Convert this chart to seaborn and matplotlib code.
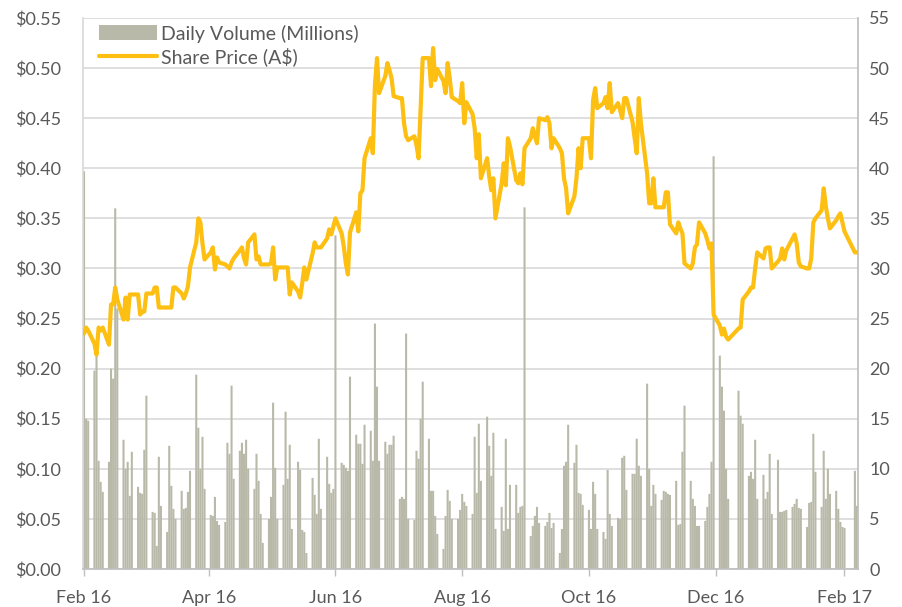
import numpy as np
import pandas as pd
import matplotlib
matplotlib.use('Agg')
import matplotlib.pyplot as plt
import matplotlib.dates as mdates
from matplotlib.ticker import FuncFormatter, MultipleLocator
from matplotlib.patches import Patch
from matplotlib.lines import Line2D
import seaborn as sns

# trading days (two halted days in Dec 16 and Feb 17 have no data)
missing_days = ['2016-12-12', '2016-12-13', '2017-02-06', '2017-02-07']
dates = pd.bdate_range('2016-02-03', '2017-02-09').drop(pd.to_datetime(missing_days))

# share price (A$), one row per week
price = [
    0.235, 0.241, 0.238,
    0.225, 0.214, 0.241, 0.238, 0.241,
    0.224, 0.264, 0.264, 0.281, 0.269,
    0.249, 0.271, 0.249, 0.274, 0.274,
    0.274, 0.254, 0.257, 0.257, 0.275,
    0.275, 0.281, 0.281, 0.261, 0.261,
    0.261, 0.261, 0.261, 0.281, 0.281,
    0.275, 0.270, 0.275, 0.282, 0.301,
    0.326, 0.350, 0.346, 0.325, 0.309,
    0.316, 0.321, 0.299, 0.311, 0.306,
    0.304, 0.302, 0.300, 0.306, 0.310,
    0.318, 0.321, 0.310, 0.304, 0.326,
    0.334, 0.309, 0.312, 0.304, 0.304,
    0.304, 0.305, 0.321, 0.289, 0.301,
    0.301, 0.301, 0.301, 0.274, 0.286,
    0.277, 0.271, 0.285, 0.301, 0.289,
    0.315, 0.326, 0.321, 0.321, 0.321,
    0.330, 0.339, 0.334, 0.342, 0.350,
    0.335, 0.322, 0.305, 0.294, 0.336,
    0.356, 0.337, 0.375, 0.378, 0.410,
    0.430, 0.415, 0.483, 0.510, 0.475,
    0.492, 0.505, 0.498, 0.490, 0.472,
    0.470, 0.470, 0.445, 0.432, 0.428,
    0.432, 0.423, 0.410, 0.460, 0.510,
    0.510, 0.482, 0.520, 0.488, 0.499,
    0.487, 0.475, 0.505, 0.490, 0.471,
    0.467, 0.465, 0.485, 0.445, 0.466,
    0.454, 0.440, 0.410, 0.434, 0.390,
    0.410, 0.392, 0.378, 0.390, 0.350,
    0.385, 0.405, 0.383, 0.430, 0.422,
    0.388, 0.385, 0.395, 0.384, 0.420,
    0.430, 0.440, 0.432, 0.425, 0.450,
    0.448, 0.451, 0.445, 0.420, 0.430,
    0.420, 0.415, 0.390, 0.380, 0.355,
    0.372, 0.390, 0.420, 0.400, 0.430,
    0.430, 0.410, 0.468, 0.480, 0.460,
    0.465, 0.471, 0.460, 0.485, 0.456,
    0.465, 0.458, 0.450, 0.470, 0.470,
    0.446, 0.430, 0.415, 0.470, 0.445,
    0.395, 0.365, 0.365, 0.390, 0.361,
    0.361, 0.361, 0.376, 0.376, 0.344,
    0.335, 0.346, 0.340, 0.335, 0.305,
    0.300, 0.305, 0.321, 0.324, 0.346,
    0.335, 0.328, 0.320, 0.325, 0.254,
    0.243, 0.234, 0.240, 0.232, 0.229,
    0.240, 0.241, 0.269,
    0.277, 0.281, 0.281, 0.300, 0.316,
    0.310, 0.320, 0.321, 0.321, 0.300,
    0.307, 0.310, 0.320, 0.309, 0.318,
    0.330, 0.334, 0.325, 0.306, 0.302,
    0.300, 0.300, 0.310, 0.346, 0.350,
    0.358, 0.380, 0.362, 0.350, 0.340,
    0.348, 0.352, 0.355, 0.346, 0.337,
    0.316, 0.316,
]

# daily volume (millions), one row per week
volume = [
    39.7, 15.0, 14.8,
    19.8, 22.7, 10.8, 8.7, 7.7,
    10.7, 20.0, 19.0, 36.0, 26.0,
    12.9, 10.0, 10.7, 7.3, 11.7,
    8.2, 7.6, 7.5, 11.9, 17.3,
    5.7, 5.6, 2.3, 11.2, 6.3,
    3.7, 12.3, 8.3, 6.0, 5.0,
    7.8, 6.0, 6.1, 7.7, 9.8,
    19.4, 14.1, 10.0, 13.2, 8.0,
    5.4, 5.3, 7.2, 4.8, 4.4,
    4.7, 12.6, 11.5, 18.3, 9.0,
    11.8, 12.6, 11.5, 12.9, 10.0,
    8.0, 11.5, 8.8, 5.5, 2.6,
    5.0, 7.2, 16.6, 10.1, 5.0,
    8.4, 15.7, 9.0, 12.4, 4.0,
    10.7, 9.9, 3.9, 3.7, 1.6,
    9.1, 7.4, 5.5, 13.0, 6.0,
    11.2, 8.5, 7.6, 8.0, 33.3,
    10.6, 10.4, 10.1, 9.8, 19.2,
    13.4, 12.5, 12.5, 10.5, 14.4,
    13.8, 10.8, 24.5, 18.2, 10.8,
    12.7, 11.5, 12.4, 12.4, 13.3,
    7.0, 7.2, 7.0, 23.5, 5.0,
    4.9, 11.8, 11.0, 15.0, 18.7,
    13.0, 7.8, 7.8, 5.3, 3.5,
    2.0, 5.3, 7.9, 6.8, 5.0,
    5.0, 5.9, 7.5, 6.7, 6.3,
    5.5, 13.2, 7.6, 14.5, 8.8,
    15.2, 12.3, 9.3, 13.6, 4.0,
    6.2, 3.8, 13.0, 4.0, 8.4,
    8.4, 5.6, 6.2, 6.3, 36.1,
    3.3, 4.3, 5.3, 6.2, 4.6,
    4.3, 4.7, 5.6, 4.1, 4.6,
    1.6, 4.0, 10.3, 10.7, 14.4,
    10.6, 12.4, 7.6, 7.5, 6.4,
    5.9, 4.0, 8.7, 7.5, 4.0,
    3.7, 3.0, 9.9, 5.5, 4.3,
    5.1, 5.0, 11.1, 11.3, 7.9,
    9.5, 9.5, 13.0, 10.3, 9.3,
    18.5, 10.0, 6.3, 8.4, 7.5,
    6.9, 7.8, 7.7, 7.5, 7.4,
    8.8, 4.4, 4.5, 11.7, 16.3,
    8.8, 7.0, 6.3, 4.3, 4.3,
    4.8, 6.2, 7.5, 10.7, 41.2,
    21.3, 18.2, 15.8, 10.0, 7.0,
    17.8, 15.3, 14.5,
    9.3, 9.7, 9.0, 12.9, 7.0,
    9.4, 7.0, 7.7, 11.5, 5.5,
    10.9, 5.7, 5.7, 5.8, 5.9,
    6.2, 6.5, 7.0, 6.1, 6.0,
    4.2, 6.6, 6.7, 13.5, 9.7,
    6.2, 11.8, 7.0, 10.0, 7.5,
    7.8, 6.0, 4.7, 4.2, 4.1,
    9.8, 6.3,
]

tick_dates = pd.to_datetime(['2016-02-03', '2016-04-03', '2016-06-03', '2016-08-03',
                             '2016-10-03', '2016-12-03', '2017-02-03'])

assert len(dates) == len(price) == len(volume)

sns.set_theme(style='white')
plt.rcParams['font.family'] = ['Lato', 'DejaVu Sans']

bar_color = '#b9b9a9'
line_color = '#fdbf11'
text_color = '#595959'
grid_color = '#d9d9d9'

fig = plt.figure(figsize=(9.02, 6.07), dpi=100)
ax = fig.add_axes([83 / 902, 1 - 569 / 607, 775 / 902, 551 / 607])

# volume bars on the axis that carries the right-hand scale
ax.bar(dates, volume, width=1.0, color=bar_color, linewidth=0, snap=False)
ax.set_ylim(0, 55)
ax.grid(axis='y', color=grid_color, linewidth=1.2)
ax.set_axisbelow(True)

# share price on the twin axis, labels on the left
ax2 = ax.twinx()
sns.lineplot(x=dates, y=price, ax=ax2, color=line_color, linewidth=3.0)
ax2.set_ylim(0, 0.55)
ax2.yaxis.set_major_locator(MultipleLocator(0.05))
ax2.yaxis.set_major_formatter(FuncFormatter(lambda v, p: f'${v:.2f}'))
ax2.yaxis.tick_left()
ax2.set_ylabel('')
ax2.grid(False)

# twinx puts the first axis on the left, so move it back to the right
ax.yaxis.tick_right()
ax.yaxis.set_major_locator(MultipleLocator(5))

ax.set_xlim(pd.Timestamp('2016-02-02 12:00'), pd.Timestamp('2017-02-09 12:00'))
ax.set_xticks(tick_dates)
ax.xaxis.set_major_formatter(mdates.DateFormatter('%b %y'))

for a in (ax, ax2):
    for s in a.spines.values():
        s.set_visible(False)
ax.spines['bottom'].set_visible(True)
ax.spines['bottom'].set_color('#bfbfbf')
ax.spines['right'].set_visible(True)
ax.spines['right'].set_color('#bfbfbf')
ax.spines['left'].set_visible(True)
ax.spines['left'].set_color('#d9d9d9')

ax.tick_params(axis='x', bottom=True, length=5, width=1, color='#bfbfbf',
               labelsize=13, labelcolor=text_color, pad=10)
ax.tick_params(axis='y', left=False, right=True, labelleft=False, labelright=True,
               length=0, labelsize=13, labelcolor=text_color, pad=8)
ax2.tick_params(axis='y', left=True, right=False, labelleft=True, labelright=False,
                length=0, labelsize=13, labelcolor=text_color, pad=16)

handles = [Patch(facecolor=bar_color, edgecolor='none'),
           Line2D([0], [0], color=line_color, linewidth=3.0)]
fig.legend(handles, ['Daily Volume (Millions)', 'Share Price (A$)'],
           loc='upper left', bbox_to_anchor=(81 / 902, 1 - 7 / 607),
           frameon=False, fontsize=14, labelcolor=text_color,
           handlelength=3.0, handleheight=0.8, handletextpad=0.2, labelspacing=0.25)

fig.savefig('out.png', dpi=100)
